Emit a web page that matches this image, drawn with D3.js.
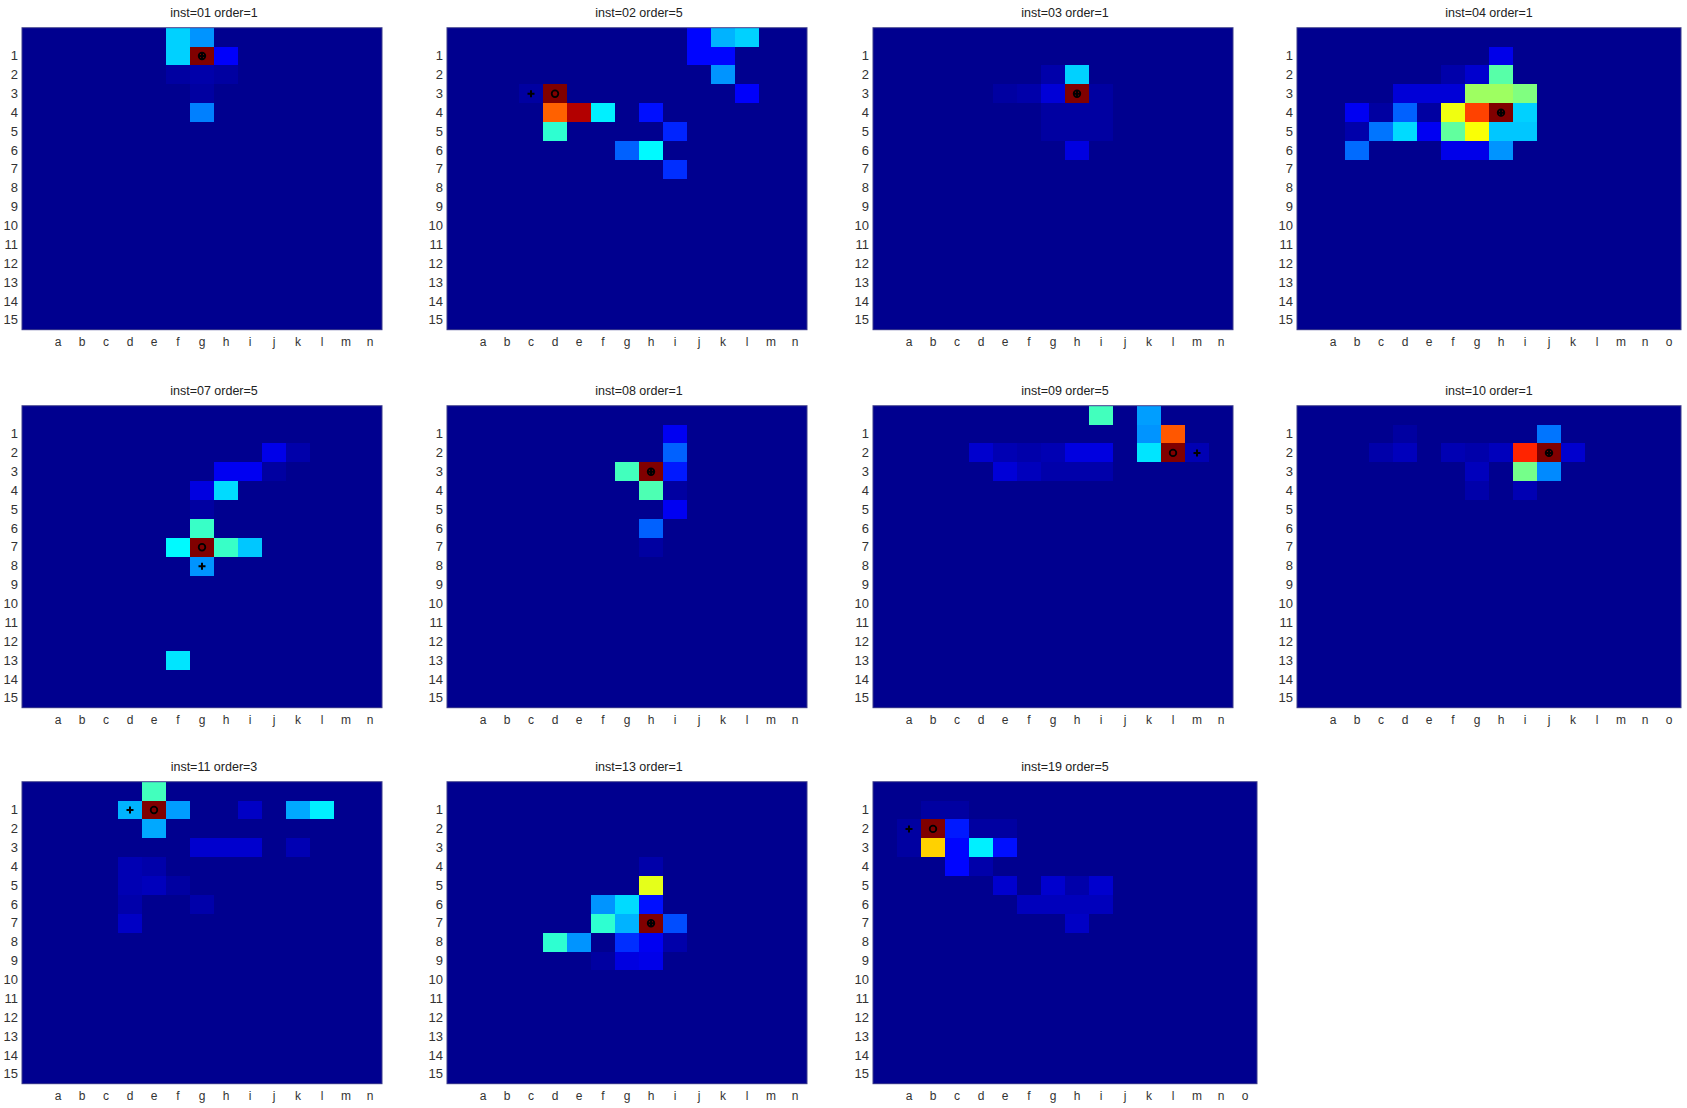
<!DOCTYPE html>
<html><head><meta charset="utf-8">
<script src="https://cdn.jsdelivr.net/npm/d3@7"></script>
<style>
body{margin:0;background:#fff;}
svg text{font-family:"Liberation Sans",Arial,Helvetica,sans-serif;}
</style>
</head><body>
<svg id="chart" width="1687" height="1108"></svg>
<script>
// ---------------- DATA ----------------
const titles = ["inst=01 order=1","inst=02 order=5","inst=03 order=1","inst=04 order=1",
                "inst=07 order=5","inst=08 order=1","inst=09 order=5","inst=10 order=1",
                "inst=11 order=3","inst=13 order=1","inst=19 order=5"];
const xLabelsN = ["a","b","c","d","e","f","g","h","i","j","k","l","m","n"];
const xLabelsO = ["a","b","c","d","e","f","g","h","i","j","k","l","m","n","o"];
const yLabels  = ["1","2","3","4","5","6","7","8","9","10","11","12","13","14","15"];
const panelXLabels = [xLabelsN,xLabelsN,xLabelsN,xLabelsO,
                      xLabelsN,xLabelsN,xLabelsN,xLabelsO,
                      xLabelsN,xLabelsN,xLabelsO];

// cells: [row, column letter, value 0..1] (all other cells are 0)
const inst01 = [[0,"f",0.33],[1,"f",0.33],[0,"g",0.27],[1,"g",1.0],[1,"h",0.12],[4,"g",0.25],
                [2,"g",0.03],[2,"f",0.02],[3,"g",0.02],[2,"h",0.02]];
const inst02 = [[0,"j",0.13],[1,"j",0.13],[0,"k",0.30],[0,"l",0.33],[1,"k",0.13],[2,"k",0.27],[3,"l",0.12],
                [3,"d",1.0],[4,"d",0.78],[4,"e",0.95],[4,"f",0.36],[4,"h",0.14],[5,"d",0.42],[5,"i",0.16],
                [6,"g",0.22],[6,"h",0.37],[7,"i",0.17],[3,"c",0.02]];
const inst03 = [[2,"h",0.33],[3,"h",1.0],[3,"g",0.08],[6,"h",0.09],[2,"g",0.03],[3,"f",0.03],[3,"e",0.02],
                [4,"g",0.02],[4,"i",0.02],[5,"g",0.02],[5,"h",0.02],[5,"i",0.02],[3,"i",0.02],[4,"h",0.02]];
const inst04 = [[1,"h",0.10],[2,"g",0.07],[2,"h",0.46],[3,"d",0.08],[3,"e",0.08],[3,"f",0.08],
                [3,"g",0.53],[3,"h",0.53],[3,"i",0.50],[4,"b",0.11],[4,"d",0.22],[4,"f",0.61],
                [4,"g",0.81],[4,"h",1.0],[4,"i",0.33],[5,"c",0.24],[5,"d",0.34],[5,"e",0.11],
                [5,"f",0.47],[5,"g",0.62],[5,"h",0.32],[5,"i",0.32],[6,"b",0.23],[6,"f",0.10],
                [6,"g",0.10],[6,"h",0.27],[4,"e",0.02],[4,"c",0.02],[5,"b",0.03],[2,"f",0.03]];
const inst07 = [[2,"j",0.10],[3,"h",0.11],[3,"i",0.11],[4,"g",0.09],[4,"h",0.34],[6,"g",0.43],
                [7,"f",0.37],[7,"g",1.0],[7,"h",0.43],[7,"i",0.32],[8,"g",0.27],[13,"f",0.35],
                [2,"k",0.03],[3,"j",0.02],[5,"g",0.02]];
const inst08 = [[1,"i",0.11],[2,"i",0.22],[3,"i",0.15],[3,"g",0.44],[3,"h",1.0],[4,"h",0.45],
                [5,"i",0.11],[6,"h",0.22],[4,"i",0.02],[7,"h",0.02]];
const inst09 = [[0,"i",0.44],[0,"k",0.28],[1,"k",0.27],[2,"k",0.35],[1,"l",0.79],[2,"l",1.0],
                [2,"d",0.07],[2,"h",0.09],[2,"i",0.09],[3,"e",0.08],[3,"f",0.05],[2,"g",0.04],
                [2,"e",0.04],[2,"f",0.03],[2,"m",0.04],[3,"g",0.03],[3,"h",0.03],[3,"i",0.03]];
const inst10 = [[1,"j",0.24],[2,"i",0.84],[2,"j",1.0],[2,"k",0.07],[3,"i",0.49],[3,"j",0.26],
                [2,"d",0.05],[2,"f",0.04],[2,"h",0.05],[3,"g",0.05],[4,"i",0.04],[2,"c",0.03],
                [4,"g",0.03],[2,"g",0.03],[1,"d",0.02]];
const inst11 = [[0,"e",0.44],[1,"d",0.30],[1,"e",1.0],[1,"f",0.28],[2,"e",0.29],[1,"k",0.29],
                [1,"l",0.36],[1,"i",0.06],[3,"g",0.07],[3,"h",0.07],[3,"i",0.07],[3,"k",0.04],
                [5,"e",0.05],[4,"d",0.04],[5,"d",0.04],[7,"d",0.06],[6,"g",0.03],[4,"e",0.03],
                [6,"d",0.03],[5,"f",0.02]];
const inst13 = [[5,"h",0.60],[6,"f",0.27],[6,"g",0.34],[6,"h",0.14],[7,"f",0.42],[7,"g",0.30],
                [7,"h",1.0],[7,"i",0.20],[8,"d",0.42],[8,"e",0.27],[8,"g",0.17],[8,"h",0.11],
                [9,"g",0.09],[9,"h",0.10],[4,"h",0.03],[8,"i",0.03],[9,"f",0.02]];
const inst19 = [[2,"b",1.0],[2,"c",0.15],[3,"c",0.13],[4,"c",0.13],[3,"b",0.67],[3,"d",0.36],
                [3,"e",0.14],[5,"e",0.07],[5,"g",0.07],[5,"i",0.07],[6,"f",0.05],[6,"g",0.05],
                [6,"h",0.05],[6,"i",0.05],[7,"h",0.06],[1,"b",0.02],[1,"c",0.02],[2,"a",0.02],
                [3,"a",0.02],[4,"d",0.03],[5,"h",0.03],[2,"d",0.02],[2,"e",0.02]];
const panelCells = [inst01,inst02,inst03,inst04,inst07,inst08,inst09,inst10,inst11,inst13,inst19];

// marker "o" (true) and "+" (estimate): [column letter, row]
const truthMarks = [["g",1],["d",3],["h",3],["h",4],["g",7],["h",3],["l",2],["j",2],["e",1],["h",7],["b",2]];
const estMarks   = [["g",1],["c",3],["h",3],["h",4],["g",8],["h",3],["m",2],["j",2],["d",1],["h",7],["a",2]];

// ---------------- LAYOUT / STYLE ----------------
const nRows = 16;
const cellW = 24;
const plotH = 302;
const lefts = [22, 447, 873, 1297];
const tops  = [27.7, 405.7, 781.7];

const jet = d3.scaleLinear()
  .domain([0, 0.125, 0.375, 0.625, 0.875, 1])
  .range(["#00008f","#0000ff","#00ffff","#ffff00","#ff0000","#800000"])
  .clamp(true);

const svg = d3.select("#chart");

panelCells.forEach((cells, i) => {
  const labels = panelXLabels[i];
  const nCols = labels.length + 1;
  const left = lefts[i % 4], top = tops[Math.floor(i / 4)];
  const x = d3.scaleBand().domain(d3.range(nCols)).range([left, left + nCols * cellW]);
  const y = d3.scaleBand().domain(d3.range(nRows)).range([top, top + plotH]);
  const colIdx = l => labels.indexOf(l) + 1;

  const lookup = new Map(cells.map(d => [d[0] + "," + colIdx(d[1]), d[2]]));
  const grid = [];
  for (let r = 0; r < nRows; r++)
    for (let c = 0; c < nCols; c++)
      grid.push({r, c, v: lookup.get(r + "," + c) || 0});

  const g = svg.append("g");
  g.append("g").selectAll("rect").data(grid).join("rect")
    .attr("x", d => x(d.c)).attr("y", d => y(d.r))
    .attr("width", x.bandwidth() + 0.4).attr("height", y.bandwidth() + 0.4)
    .attr("fill", d => jet(d.v))
    .attr("shape-rendering", "crispEdges");

  g.append("rect")
    .attr("x", left).attr("y", top)
    .attr("width", nCols * cellW).attr("height", plotH)
    .attr("fill", "none").attr("stroke", "#3c3c8c").attr("stroke-width", 1);

  // axes
  const xAxis = d3.axisBottom(x).tickValues(d3.range(1, nCols))
    .tickFormat(c => labels[c - 1]).tickSize(0).tickPadding(8);
  const ax = g.append("g").attr("transform", `translate(0,${top + plotH})`).call(xAxis);
  ax.select(".domain").remove();
  ax.selectAll("text").attr("font-size", 12).attr("fill", "#333");

  const yAxis = d3.axisLeft(y).tickValues(d3.range(1, nRows))
    .tickFormat(r => yLabels[r - 1]).tickSize(0).tickPadding(4);
  const ay = g.append("g").attr("transform", `translate(${left},0)`).call(yAxis);
  ay.select(".domain").remove();
  ay.selectAll("text").attr("font-size", 13).attr("fill", "#333");

  // title
  g.append("text").attr("x", left + 192).attr("y", top - 10.5)
    .attr("text-anchor", "middle").attr("font-size", 12.5).attr("fill", "#222")
    .text(titles[i]);

  // markers
  const t = truthMarks[i], e = estMarks[i];
  const cx = l => x(colIdx(l)) + x.bandwidth() / 2;
  const cy = r => y(r) + y.bandwidth() / 2;
  g.append("circle").attr("cx", cx(t[0])).attr("cy", cy(t[1])).attr("r", 3.3)
    .attr("fill", "none").attr("stroke", "#000").attr("stroke-width", 1.8);
  const px = cx(e[0]), py = cy(e[1]), s = 3.5;
  g.append("path").attr("d", `M${px - s},${py}H${px + s}M${px},${py - s}V${py + s}`)
    .attr("stroke", "#000").attr("stroke-width", 2);
});
</script>
</body></html>
